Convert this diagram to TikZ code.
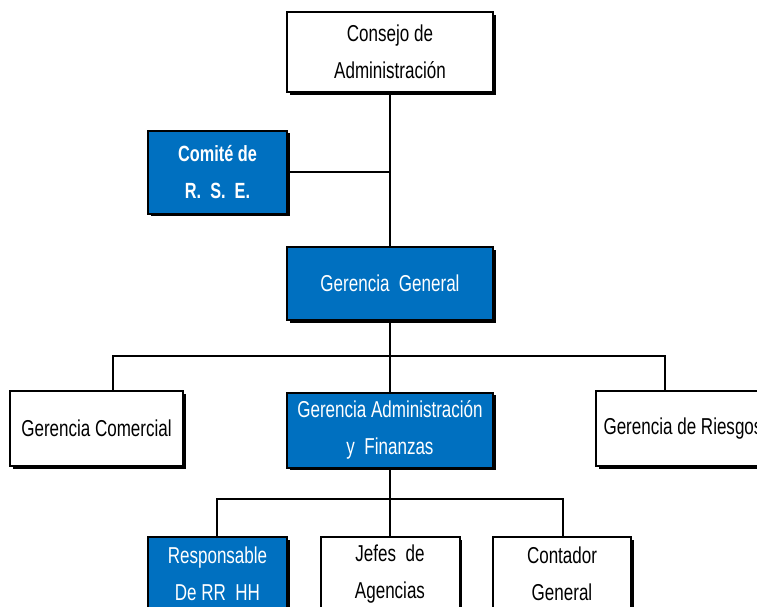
\documentclass[tikz,border=0pt]{standalone}
\usepackage{fontspec}
\setmainfont{Liberation Sans}[FakeStretch=0.74]
\usetikzlibrary{shadows}
\definecolor{boxblue}{HTML}{0070C0}
\begin{document}
\begin{tikzpicture}[x=1pt,y=-1pt,
  box/.style={draw=black, line width=2pt, rectangle, align=center, inner sep=0pt,
    font=\fontsize{23}{37}\selectfont,
    drop shadow={shadow xshift=2.5pt, shadow yshift=-2.5pt, fill=black, opacity=1}},
  whitebox/.style={box, fill=white, text=black},
  bluebox/.style={box, fill=boxblue, text=white},
  link/.style={line width=2pt}]
\useasboundingbox (0,0) rectangle (757,606);
\clip (0,0) rectangle (757,606);
\node[whitebox, minimum width=206pt, minimum height=80pt] (consejo) at (390,52) {Consejo de\\Administración};
\node[bluebox, minimum width=139pt, minimum height=83pt, font=\fontsize{22}{37}\selectfont\bfseries] (comite) at (217.5,172) {Comité de\\R.~~S.~~E.};
\node[bluebox, minimum width=206pt, minimum height=73pt] (gg) at (390,283.5) {Gerencia~~General};
\node[whitebox, minimum width=173pt, minimum height=75pt] (gc) at (96.5,428.5) {Gerencia Comercial};
\node[bluebox, minimum width=206pt, minimum height=75pt] (gaf) at (390,430) {Gerencia Administración\\y~~Finanzas};
\node[whitebox, minimum width=174pt, minimum height=75pt] (gr) at (683,428.5) {Gerencia de Riesgos};
\node[bluebox, minimum width=139pt, minimum height=74pt] (rrhh) at (217.5,574) {Responsable\\De RR~~HH};
\node[whitebox, minimum width=139pt, minimum height=74pt] (jefes) at (390,574) {Jefes~~de\\Agencias};
\node[whitebox, minimum width=138pt, minimum height=74pt] (cont) at (562,574) {Contador\\General};
\coordinate (gcTop) at (113,391);
\coordinate (grTop) at (665,391);
\coordinate (rrTop) at (217,537);
\coordinate (coTop) at (563,537);
\coordinate (busA) at (390,356);
\coordinate (busB) at (390,499);
\draw[link] (consejo.south) -- (gg.north);
\draw[link] (comite.east) -- (comite.east -| consejo.south);
\draw[link] (gg.south) -- (gaf.north);
\draw[link] (gcTop) |- (busA) -| (grTop);
\draw[link] (gaf.south) -- (jefes.north);
\draw[link] (rrTop) |- (busB) -| (coTop);
\end{tikzpicture}
\end{document}
